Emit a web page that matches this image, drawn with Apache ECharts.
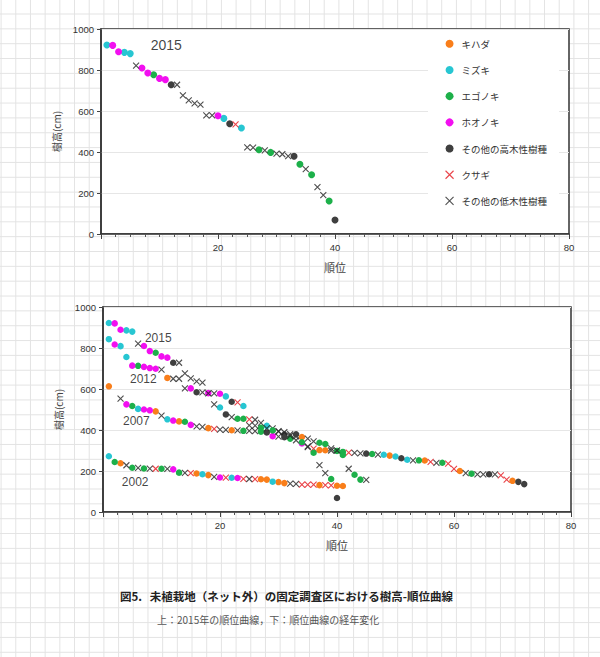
<!DOCTYPE html>
<html><head><meta charset="utf-8">
<script src="https://cdn.jsdelivr.net/npm/echarts@6/dist/echarts.min.js"></script>
<style>
html,body{margin:0;padding:0;}
body{width:600px;height:657px;overflow:hidden;position:relative;background-color:#fff;
background-image:linear-gradient(90deg,#e3e3e3 1px,transparent 1px),linear-gradient(180deg,#e3e3e3 1px,transparent 1px);
background-size:14.7px 14.85px;background-position:0.6px 13.5px;}
#chart{position:absolute;left:0;top:0;width:600px;height:657px;}
.cap{position:absolute;left:120px;top:590px;font-size:11.5px;line-height:12px;font-weight:bold;color:#222;font-family:"Noto Sans CJK JP",sans-serif;white-space:nowrap;}
.sub{position:absolute;left:157px;top:615px;font-size:10px;line-height:10px;color:#555;font-family:"Noto Sans CJK JP",serif;white-space:nowrap;}
</style></head>
<body>
<div id="chart"></div>
<div class="cap">図5.&nbsp;&nbsp;&nbsp;未植栽地（ネット外）の固定調査区における樹高-順位曲線</div>
<div class="sub">上：2015年の順位曲線，下：順位曲線の経年変化</div>
<script>
// species: 0 キハダ, 1 ミズキ, 2 エゴノキ, 3 ホオノキ, 4 その他の高木性樹種, 5 クサギ, 6 その他の低木性樹種
const species = ['キハダ','ミズキ','エゴノキ','ホオノキ','その他の高木性樹種','クサギ','その他の低木性樹種'];
const speciesColors = ['#F97E1A','#27C6D2','#1DB04A','#F20FF0','#3F3F3F','#E3141B','#222222'];
const crossSpecies = [5,6];

const xTicks = [0,20,40,60,80];
const yTicks = [0,200,400,600,800,1000];

// 2015 (rank = index + 1)
const h2015 = [922,920,889,886,880,821,810,785,777,759,753,728,728,676,652,637,631,579,579,577,564,538,535,517,423,421,411,408,398,392,389,380,379,340,317,289,229,190,161,68];
const sp2015 = [1,3,3,1,1,6,3,3,2,3,3,4,6,6,6,6,6,6,6,3,1,4,5,1,6,6,2,6,2,6,6,6,4,2,6,2,6,6,2,4];

// 2012
const h2012 = [843,817,809,756,714,713,708,702,699,694, 654,650,650,603,603,584,584,580,525,510, 476,463,455,455,452,450,435,420,408,395, 378,372,369,366,358,345,338,332,310,300, 278,211,182,158,157];
const sp2012 = [1,3,1,1,3,2,3,3,3,6, 0,6,6,6,3,4,6,3,6,1, 4,6,2,2,5,6,6,1,6,6, 4,6,6,0,6,6,2,2,6,6, 2,6,2,2,6];

// 2007
const h2007 = [613,null,553,525,517,503,500,496,491,470, 452,446,442,440,425,418,415,409,405,402, 401,399,398,396,396,394,392,388,370,368, 365,358,350,334,320,309,302,301,300,298, 293,290,288,286,285,283,280,279,275,271, 262,255,252,252,251,244,240,240,236,210, 200,190,187,184,184,184,183,179,158,152, 147,136];
const sp2007 = [0,null,6,3,2,1,3,3,0,6, 1,3,0,2,3,6,6,0,5,6, 6,0,6,2,6,6,2,4,3,6, 4,2,6,3,6,5,0,0,6,2, 2,5,6,6,4,2,6,1,0,1, 4,1,6,2,0,5,6,2,5,5, 0,6,2,6,6,4,6,5,5,0, 4,4];

// 2002
const h2002 = [272,244,238,228,216,215,212,212,211,211, 210,208,192,191,190,188,184,180,171,168, 168,167,166,162,161,160,160,158,148,146, 141,138,137,134,133,133,131,131,130,128, 127];
const sp2002 = [1,2,0,6,2,6,2,6,5,2, 6,3,2,6,5,0,1,0,6,3, 5,1,3,5,6,5,0,0,1,0, 0,6,6,5,5,5,0,5,5,0, 0];

// year annotations: [rank, height, text]
const topYearLabels = [[11.15, 923, '2015']];
const bottomYearLabels = [[9.45, 847, '2015'], [6.9, 650, '2012'], [5.7, 446, '2007'], [5.5, 148, '2002']];

const xPath = 'path://M0,0L10,10M10,0L0,10';
const chart = echarts.init(document.getElementById('chart'), null, {renderer:'svg'});

const series = [];
function addYear(gridIdx, heights, codes, dotSize, crossSize){
  species.forEach((name, s) => {
    const data = [];
    heights.forEach((h, i) => { if (h != null && codes[i] === s) data.push([i + 1, h]); });
    const cross = crossSpecies.includes(s);
    series.push({
      type:'scatter', name, xAxisIndex:gridIdx, yAxisIndex:gridIdx, data,
      symbol: cross ? xPath : 'circle',
      symbolSize: cross ? crossSize : dotSize,
      itemStyle: cross ? {color:'rgba(0,0,0,0)', borderColor:speciesColors[s], borderWidth:1.1}
                       : {color:speciesColors[s], opacity:1},
      emphasis:{disabled:true}, silent:true, z:3
    });
  });
}
function addLabels(gridIdx, labels, size){
  series.push({
    type:'scatter', xAxisIndex:gridIdx, yAxisIndex:gridIdx, symbolSize:1, silent:true, z:5,
    itemStyle:{color:'rgba(0,0,0,0)'},
    data: labels.map(l => ({value:[l[0], l[1]], name:l[2]})),
    label:{show:true, position:'inside', formatter:'{b}', fontSize:size, color:'#111', fontFamily:'Liberation Sans, Arial, sans-serif'}
  });
}
addYear(0, h2015, sp2015, 7, 6);
addYear(1, h2002, sp2002, 6.5, 6);
addYear(1, h2007, sp2007, 6.5, 6);
addYear(1, h2012, sp2012, 6.5, 6);
addYear(1, h2015, sp2015, 6.5, 6);
addLabels(0, topYearLabels, 14);
addLabels(1, bottomYearLabels, 12);

function xAxis(idx){
  return {
    type:'value', gridIndex:idx, min:xTicks[0], max:xTicks[xTicks.length-1], interval:xTicks[1]-xTicks[0],
    name:'順位', nameLocation:'middle', nameGap:27,
    nameTextStyle:{fontSize:11, color:'#444', fontFamily:'Noto Sans CJK JP'},
    axisLine:{show:true, onZero:false, lineStyle:{color:'#333', width:1.5}},
    axisTick:{show:true, length:5, lineStyle:{color:'#444'}},
    minorTick:{show:true, splitNumber:8, length:3, lineStyle:{color:'#555'}},
    splitLine:{show:false},
    axisLabel:{fontSize:9.5, color:'#333', margin:8, fontFamily:'Liberation Sans, Arial, sans-serif',
      formatter:v => (v === 0 ? '' : String(v))}
  };
}
function yAxis(idx){
  return {
    type:'value', gridIndex:idx, min:yTicks[0], max:yTicks[yTicks.length-1], interval:yTicks[1]-yTicks[0],
    name:'樹高(cm)', nameLocation:'middle', nameGap:31,
    nameTextStyle:{fontSize:10, color:'#444', fontFamily:'Noto Sans CJK JP'},
    axisLine:{show:true, onZero:false, lineStyle:{color:'#333', width:1.5}},
    axisTick:{show:true, length:4, lineStyle:{color:'#444'}},
    splitLine:{show:true, lineStyle:{color:'#e6e6e6', width:1}},
    axisLabel:{fontSize:9.5, color:'#333', margin:7, fontFamily:'Liberation Sans, Arial, sans-serif',
      formatter:v => String(v)}
  };
}

const legendData = species.map((name, s) => {
  const cross = crossSpecies.includes(s);
  return cross
    ? {name, icon:xPath, itemStyle:{color:'rgba(0,0,0,0)', borderColor:speciesColors[s], borderWidth:1.1}}
    : {name, icon:'circle', itemStyle:{color:speciesColors[s]}};
});

chart.setOption({
  animation:false,
  backgroundColor:'transparent',
  textStyle:{fontFamily:'Liberation Sans, Noto Sans CJK JP, sans-serif'},
  grid:[
    {left:101, top:29, width:468, height:205, show:true, backgroundColor:'#fff', borderColor:'#333', borderWidth:1.5, containLabel:false, outerBoundsMode:'none'},
    {left:103, top:307, width:468, height:205, show:true, backgroundColor:'#fff', borderColor:'#333', borderWidth:1.5, containLabel:false, outerBoundsMode:'none'}
  ],
  xAxis:[xAxis(0), xAxis(1)],
  yAxis:[yAxis(0), yAxis(1)],
  legend:{
    orient:'vertical', left:428, top:31, padding:[8,12,20,17],
    itemWidth:8, itemHeight:8, itemGap:16.7, backgroundColor:'#fff', selectedMode:false,
    textStyle:{fontSize:9.5, color:'#333', fontFamily:'Noto Sans CJK JP', padding:[0,0,0,3]},
    data:legendData
  },
  series
});
</script>
</body></html>
